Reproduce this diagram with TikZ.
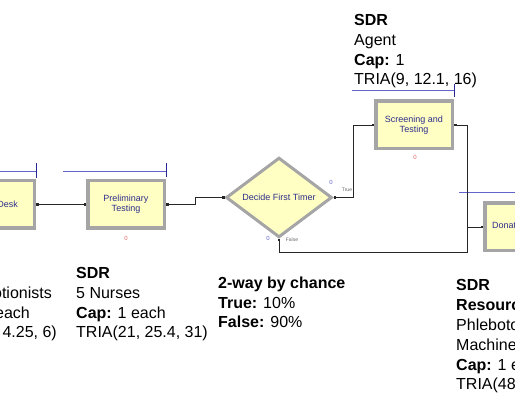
\documentclass[tikz,border=0pt]{standalone}
\usepackage{fontspec}
\setmainfont{Liberation Sans}
\usetikzlibrary{shapes.geometric,arrows.meta,calc}
\definecolor{modfill}{RGB}{255,255,196}
\definecolor{modedge}{RGB}{165,165,165}
\definecolor{modtext}{RGB}{45,45,140}
\definecolor{queueblue}{RGB}{100,100,205}
\definecolor{queuetick}{RGB}{40,40,150}
\definecolor{countred}{RGB}{225,100,100}
\definecolor{countblue}{RGB}{100,100,200}

\begin{document}
\begin{tikzpicture}[x=1pt,y=-1pt,
  module/.style={draw=modedge,line width=3.5pt,fill=modfill,minimum width=76.5pt,minimum height=47.5pt,inner sep=0pt,align=center,text=modtext,font=\fontsize{9}{10}\selectfont},
  modlabel/.style={inner sep=0pt,text=modtext,font=\fontsize{9}{10}\selectfont},
  chance/.style={diamond,draw=modedge,line width=3pt,fill=modfill,minimum width=106pt,minimum height=70pt,inner sep=0pt,text=modtext,font=\fontsize{9}{10}\selectfont},
  conn/.style={black!85,line width=.8pt,{Square[length=2.4pt,width=2.4pt]}-{Square[length=2.4pt,width=2.4pt]}},
  queue/.style={queueblue,line width=.9pt},
  info/.style={anchor=base west,align=left,inner sep=0pt,font=\fontsize{16}{19.8}\selectfont},
  counter/.style={inner sep=0pt,font=\fontsize{6}{6}\selectfont},
  branch/.style={inner sep=0pt,text=black!60,font=\fontsize{5}{5}\selectfont}]
\useasboundingbox (0,0) rectangle (515,403);
\clip (0,0) rectangle (515,403);

% modules
\node[module] (desk) at (-4,204.5) {};
\node[modlabel,anchor=east] (desklabel) at (18,204.5) {Desk};
\node[module] (prelim) at (126,204.5) {Preliminary\\Testing};
\node[chance] (decide) at (279,197.5) {Decide First Timer};
\node[module] (screen) at (414,125) {Screening and\\Testing};
\node[module] (donate) at (523,227) {};
\node[modlabel,anchor=west] (donatelabel) at (492,225) {Donation};

% queues
\draw[queue] (0,171) -- (36,171);
\draw[queuetick,line width=.9pt] (36,163) -- (36,178);
\draw[queue] (63,171) -- (166,171);
\draw[queuetick,line width=.9pt] (166,163) -- (166,177);
\draw[queue] (352,90) -- (454,90);
\draw[queuetick,line width=.9pt] (454,84) -- (454,97);
\draw[queue] (459,192) -- (515,192);

% connectors
\draw[conn] (desk.east) -- (prelim.west);
\draw[conn] (prelim.east) -- ++(29,0) |- (decide.west);
\draw[conn] (decide.east) -- ++(20,0) |- (screen.west);
\draw[conn] (screen.east) -- ++(13,0) |- (donate.west);
\draw[conn] (decide.south) |- ($(donate.west)+(-16,25)$) |- (donate.west);

% counters and branch labels
\node[counter,text=countred] (prelimcount) at (126,238) {0};
\node[counter,text=countred] (screencount) at (415,157) {0};
\node[counter,text=countblue] (truecount) at (331,182) {0};
\node[counter,text=countblue] (falsecount) at (268,238) {0};
\node[branch] (truelabel) at (347,190) {True};
\node[branch] (falselabel) at (292,239.5) {False};

% data (base = last line)
\node[info] (screeninfo) at (354,85) {\textbf{SDR}\\Agent\\\textbf{Cap:} 1\\TRIA(9, 12.1, 16)};
\node[info] (prelimfo) at (76,338) {\textbf{SDR}\\5 Nurses\\\textbf{Cap:} 1 each\\TRIA(21, 25.4, 31)};
\node[info] (decideinfo) at (218,328) {\textbf{2-way by chance}\\\textbf{True:} 10\%\\\textbf{False:} 90\%};
\node[info] (donateinfo) at (456,390) {\textbf{SDR}\\\textbf{Resourc}\\Phleboto\\Machine\\\textbf{Cap:} 1 e\\TRIA(48};
\node[info,anchor=base east] (deskinfoa) at (52,299) {otionists};
\node[info,anchor=base east] (deskinfob) at (30,319) {each};
\node[info,anchor=base east] (deskinfoc) at (57,338) {4.25, 6)};
\end{tikzpicture}
\end{document}
